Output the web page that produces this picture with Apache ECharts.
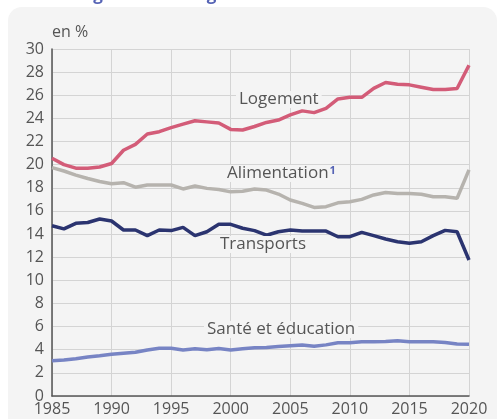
<!DOCTYPE html>
<html><head><meta charset="utf-8">
<script src="https://cdn.jsdelivr.net/npm/echarts@6/dist/echarts.min.js"></script>
<style>html,body{margin:0;padding:0;background:#fff;}#c{width:501px;height:419px;}</style>
</head><body><div id="c"></div>
<script>
const years = [1985,1986,1987,1988,1989,1990,1991,1992,1993,1994,1995,1996,1997,1998,1999,2000,2001,2002,2003,2004,2005,2006,2007,2008,2009,2010,2011,2012,2013,2014,2015,2016,2017,2018,2019,2020];
const logement = [20.55,20.0,19.7,19.7,19.8,20.1,21.25,21.75,22.65,22.85,23.2,23.5,23.8,23.7,23.6,23.05,23.0,23.3,23.65,23.86,24.3,24.65,24.5,24.87,25.68,25.82,25.82,26.6,27.1,26.95,26.9,26.7,26.5,26.5,26.58,28.6];
const alimentation = [19.75,19.45,19.1,18.8,18.55,18.35,18.44,18.05,18.24,18.24,18.24,17.9,18.15,17.95,17.86,17.65,17.7,17.9,17.8,17.46,16.95,16.65,16.3,16.37,16.7,16.8,17.0,17.38,17.6,17.5,17.5,17.44,17.23,17.23,17.1,19.55];
const transports = [14.72,14.45,14.93,15.0,15.3,15.13,14.35,14.35,13.86,14.35,14.3,14.58,13.86,14.2,14.84,14.84,14.5,14.3,13.9,14.2,14.35,14.26,14.26,14.26,13.77,13.77,14.15,13.86,13.57,13.34,13.2,13.34,13.86,14.32,14.2,11.76];
const sante = [3.05,3.12,3.22,3.37,3.48,3.6,3.7,3.78,3.98,4.12,4.12,3.98,4.08,4.0,4.1,3.98,4.08,4.18,4.2,4.28,4.35,4.4,4.3,4.42,4.6,4.61,4.7,4.7,4.72,4.78,4.7,4.7,4.7,4.62,4.5,4.47];
const seriesNames = ['Logement','Alimentation','Transports','Santé et éducation'];
const yTicks = [0,2,4,6,8,10,12,14,16,18,20,22,24,26,28,30];

const pairs = arr => years.map((y,i)=>[y,arr[i]]);
const colors = ['#d35c78','#b6b3ae','#2b3470','#7784c4'];
const allData = [logement, alimentation, transports, sante];
const FONT = '"Open Sans", sans-serif';
const BG = '#f4f4f4';

const chart = echarts.init(document.getElementById('c'), null, {renderer:'canvas'});
const lbl = (text, x, y) => ({type:'text', left:x, top:y, z:10, style:{text:text, fill:'#555', font:'17px "Open Sans", sans-serif', backgroundColor:BG, padding:[0,3]}});
chart.setOption({
  animation:false,
  backgroundColor:'#fff',
  grid:{left:52, top:49, right:32, bottom:23, containLabel:false},
  xAxis:{type:'value', min:years[0], max:years[years.length-1], interval:5,
    axisLine:{show:true, onZero:false, lineStyle:{color:'#555', width:1.5}},
    axisTick:{show:false},
    axisLabel:{color:'#555', fontSize:16, fontFamily:FONT, margin:5, formatter:v=>String(v)},
    splitLine:{show:true, lineStyle:{color:'#d4d4d4', width:1}}},
  yAxis:{type:'value', min:yTicks[0], max:yTicks[yTicks.length-1], interval:2,
    axisLine:{show:true, lineStyle:{color:'#555', width:1.5}},
    axisTick:{show:false},
    axisLabel:{color:'#555', fontSize:16, fontFamily:FONT, margin:8},
    splitLine:{show:true, lineStyle:{color:'#d4d4d4', width:1}}},
  series: allData.map((d,i)=>({name:seriesNames[i], type:'line', data:pairs(d), symbol:'none',
    lineStyle:{color:colors[i], width:3.5}, itemStyle:{color:colors[i]}, z:3})),
  graphic:[
    {type:'rect', shape:{x:8,y:7,width:489,height:440,r:14}, style:{fill:BG}, z:-10, silent:true},
    {type:'text', left:60, top:-13, style:{text:'Budget des ménages', fill:'#5563b5', font:'bold 17px "Open Sans", sans-serif'}},
    {type:'text', left:52, top:24, style:{text:'en %', fill:'#555', font:'16px "Open Sans", sans-serif'}},
    lbl(seriesNames[0], 236, 91),
    {type:'text', left:224, top:165, z:10, style:{text:'{a|Alimentation}{b|1}', backgroundColor:BG, padding:[0,3],
      rich:{a:{fill:'#555', font:'17px "Open Sans", sans-serif'}, b:{fill:'#5563b5', font:'bold 11px "Open Sans", sans-serif', verticalAlign:'top', padding:[0,0,5,1]}}}},
    lbl(seriesNames[2], 217, 236),
    lbl(seriesNames[3], 204, 321)
  ]
});
</script></body></html>
